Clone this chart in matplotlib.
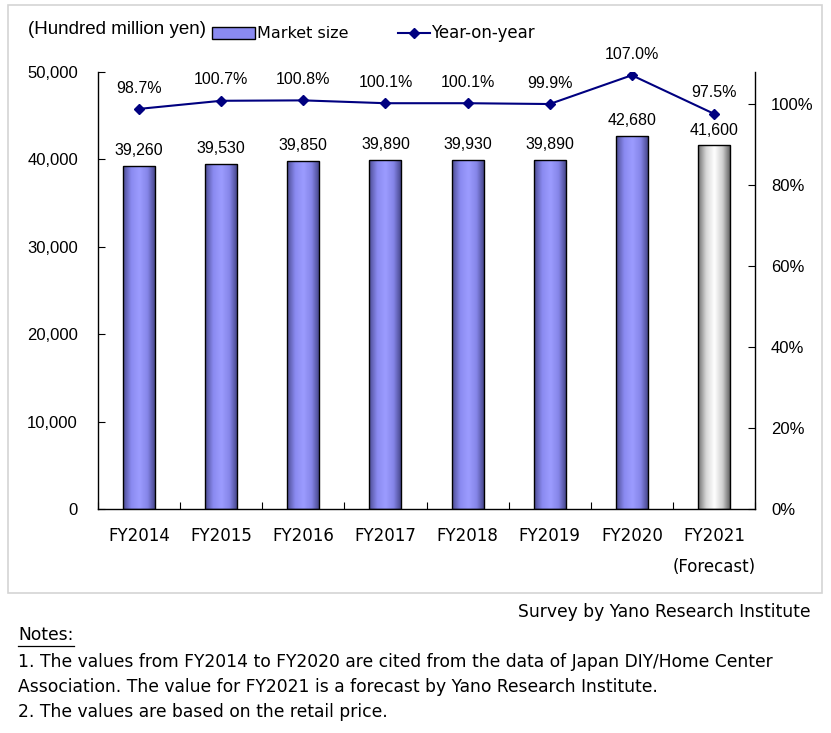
import matplotlib
matplotlib.use("Agg")
import matplotlib.pyplot as plt
import numpy as np
from matplotlib.patches import Rectangle
from matplotlib.lines import Line2D
from matplotlib.colors import LinearSegmentedColormap
from matplotlib.ticker import FuncFormatter, FixedLocator

plt.rcParams['font.family'] = ['Liberation Sans', 'DejaVu Sans']
WIDE = ['DejaVu Sans']

categories = ["FY2014", "FY2015", "FY2016", "FY2017", "FY2018", "FY2019", "FY2020", "FY2021\n(Forecast)"]
market_size = [39260, 39530, 39850, 39890, 39930, 39890, 42680, 41600]
yoy = [98.7, 100.7, 100.8, 100.1, 100.1, 99.9, 107.0, 97.5]
left_ticks = [0, 10000, 20000, 30000, 40000, 50000]
right_ticks = [0, 20, 40, 60, 80, 100]

W, H = 831, 733
fig = plt.figure(figsize=(W / 100, H / 100), dpi=100)

def fx(px):
    return px / W

def fy(py):
    return 1 - py / H

# outer frame
fig.patches.append(Rectangle((fx(8), fy(593)), (822 - 8) / W, (593 - 5) / H,
                             transform=fig.transFigure, fill=False, edgecolor="#d4d4d4", lw=1.2))

ax = fig.add_axes([fx(98), fy(509), 657 / W, 437 / H])
x = np.arange(len(categories))
bars = ax.bar(x, market_size, width=0.39, color="none", edgecolor="black", linewidth=1.0, zorder=3)

blue_cmap = LinearSegmentedColormap.from_list("b", ["#4b4b92", "#8a8af0", "#9c9cff", "#8585e8", "#3f3f80"])
gray_cmap = LinearSegmentedColormap.from_list("g", ["#6e6e6e", "#d8d8d8", "#ffffff", "#cfcfcf", "#555555"])
grad = np.linspace(0, 1, 256).reshape(1, -1)
for i, b in enumerate(bars):
    cm = gray_cmap if i == len(bars) - 1 else blue_cmap
    im = ax.imshow(grad, extent=[b.get_x(), b.get_x() + b.get_width(), 0, b.get_height()],
                   aspect="auto", cmap=cm, zorder=2, interpolation="bicubic")
    im.set_clip_path(b)
    ax.text(b.get_x() + b.get_width() / 2, b.get_height() + 900, f"{market_size[i]:,}",
            ha="center", va="bottom", fontsize=11.5, zorder=5)

ax.set_xlim(-0.5, len(categories) - 0.5)
ax.set_ylim(0, 50000)
ax.set_yticks(left_ticks)
ax.yaxis.set_major_formatter(FuncFormatter(lambda v, p: f"{int(v):,}"))
ax.set_xticks(x)
ax.set_xticklabels(categories, fontsize=12, linespacing=1.9, family=WIDE)
for lab in ax.get_xticklabels():
    lab.set_verticalalignment("top")
ax.xaxis.set_minor_locator(FixedLocator(np.arange(-0.5, len(categories), 1.0)))
ax.tick_params(axis="x", which="major", length=0, pad=13)
ax.tick_params(axis="x", which="minor", direction="in", length=5, width=0.8)
ax.tick_params(axis="y", direction="in", length=5, width=0.8, labelsize=12, pad=14.4)
ax.spines["top"].set_visible(False)
ax.spines["right"].set_visible(False)
for s in ["left", "bottom"]:
    ax.spines[s].set_linewidth(1.0)

ax2 = ax.twinx()
ax2.set_ylim(0, 107.8)
ax2.plot(x, yoy, color="#000080", lw=1.5, marker="D", markersize=5, zorder=6)
for i, v in enumerate(yoy):
    ax2.text(x[i], v + 3.3, f"{v:.1f}%", ha="center", va="bottom", fontsize=11.5)
ax2.set_yticks(right_ticks)
ax2.yaxis.set_major_formatter(FuncFormatter(lambda v, p: f"{int(v)}%"))
ax2.tick_params(axis="y", direction="in", length=5, width=0.8, labelsize=12, pad=11.5)
ax2.spines["top"].set_visible(False)
ax2.spines["left"].set_visible(False)
ax2.spines["bottom"].set_visible(False)
ax2.spines["right"].set_linewidth(1.0)

# header / legend (drawn in figure coordinates)
fig.text(fx(28), fy(29), "(Hundred million yen)", fontsize=13.5, va="center", ha="left")
fig.patches.append(Rectangle((fx(212), fy(39)), 43 / W, 12 / H, transform=fig.transFigure,
                             facecolor="#8a8af0", edgecolor="black", lw=1.0))
fig.text(fx(257), fy(33), "Market size", fontsize=11.5, va="center", ha="left", family=WIDE)
fig.add_artist(Line2D([fx(398), fx(430)], [fy(33), fy(33)], color="#000080", lw=1.5,
                      transform=fig.transFigure))
fig.add_artist(Line2D([fx(414)], [fy(33)], color="#000080", marker="D", markersize=5,
                      transform=fig.transFigure))
fig.text(fx(431), fy(33), "Year-on-year", fontsize=12, va="center", ha="left", family=WIDE)

# source and notes
NF = 12.3
fig.text(fx(810), fy(612), "Survey by Yano Research Institute", fontsize=NF, ha="right", va="center", family=WIDE)
fig.text(fx(18), fy(635), "Notes:", fontsize=NF, ha="left", va="center", family=WIDE)
fig.add_artist(Line2D([fx(18), fx(74)], [fy(646), fy(646)], color="black", lw=0.9,
                      transform=fig.transFigure))
fig.text(fx(18), fy(662), "1. The values from FY2014 to FY2020 are cited from the data of Japan DIY/Home Center",
         fontsize=NF, ha="left", va="center", family=WIDE)
fig.text(fx(18), fy(687), "Association. The value for FY2021 is a forecast by Yano Research Institute.",
         fontsize=NF, ha="left", va="center", family=WIDE)
fig.text(fx(18), fy(712), "2. The values are based on the retail price.",
         fontsize=NF, ha="left", va="center", family=WIDE)

fig.savefig("out.png", dpi=100)
